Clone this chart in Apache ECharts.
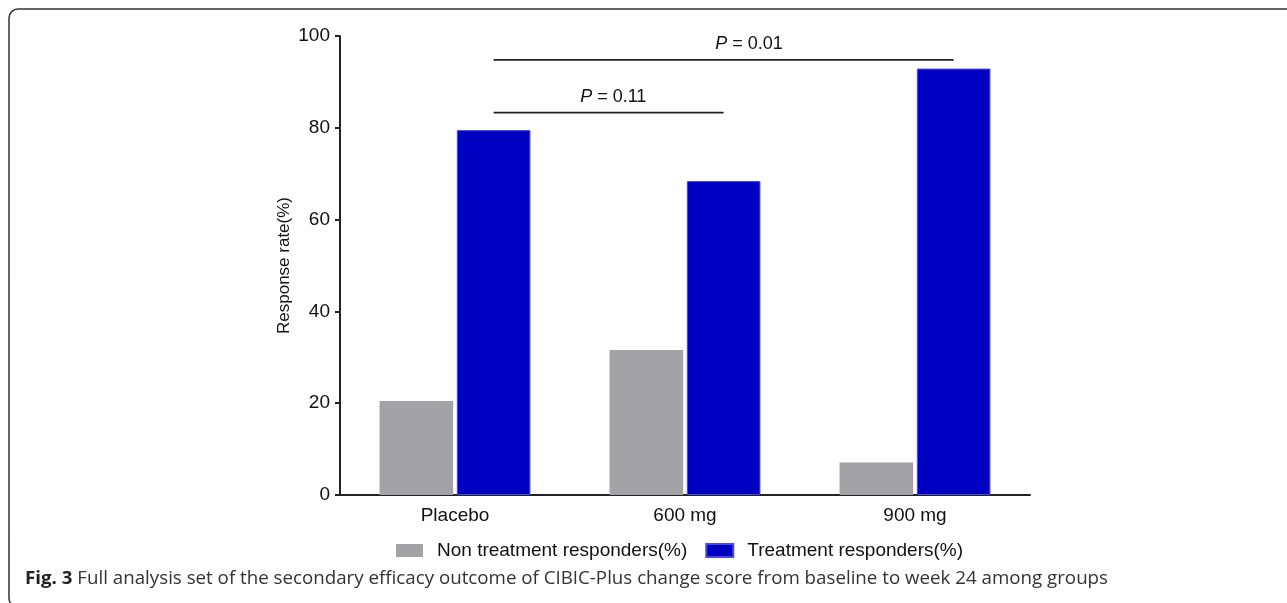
<!DOCTYPE html>
<html>
<head>
<meta charset="utf-8">
<script src="https://cdn.jsdelivr.net/npm/echarts@6/dist/echarts.min.js"></script>
<style>html,body{margin:0;padding:0;background:#fff;}#c{width:1287px;height:603px;}</style>
</head>
<body>
<div id="c"></div>
<script>
// ---- data ----
const categories = ['Placebo', '600 mg', '900 mg'];
const nonResponders = [20.5, 31.6, 7.1];
const responders = [79.5, 68.4, 92.9];
const seriesNames = ['Non treatment responders(%)', 'Treatment responders(%)'];
const yTicks = { min: 0, max: 100, interval: 20 };
// comparison brackets: [fromCategoryIndex, toCategoryIndex, bracketHeight]
const comparisons = [[0, 1, 83.3], [0, 2, 94.8]];
const pLabels = ['0.11', '0.01'];
const captionBold = 'Fig. 3';
const captionText = ' Full analysis set of the secondary efficacy outcome of CIBIC-Plus change score from baseline to week 24 among groups';

// ---- style ----
const FONT = 'Liberation Sans, Arial, sans-serif';
const BAR_FRAC = 0.32, GAP_FRAC = 0.05;
const labelAnchor = [0.52, 0.555];

const chart = echarts.init(document.getElementById('c'), null, { renderer: 'canvas' });

// caption scaling
const cv = document.createElement('canvas').getContext('2d');
const capFont = '"Open Sans", sans-serif';
cv.font = 'bold 18px ' + capFont;
const wb = cv.measureText(captionBold).width;
cv.font = '18px ' + capFont;
const wr = cv.measureText(captionText).width;
const capScale = (1108 - 25) / (wb + wr);

const option = {
  backgroundColor: '#fff',
  animation: false,
  grid: { left: 340, right: 257, top: 36, bottom: 108, containLabel: false },
  legend: {
    data: seriesNames,
    left: 391, top: 536,
    itemWidth: 27, itemHeight: 13, itemGap: 18,
    icon: 'rect',
    textStyle: { fontFamily: FONT, fontSize: 19, color: '#111', padding: [0, 0, 0, 9] }
  },
  xAxis: {
    type: 'category',
    data: categories,
    boundaryGap: true,
    axisLine: { lineStyle: { color: '#222', width: 2 } },
    axisTick: { alignWithLabel: true, length: 5, lineStyle: { color: '#222', width: 2 } },
    axisLabel: { fontFamily: FONT, fontSize: 19, color: '#111', margin: 11 },
    splitLine: { show: false }
  },
  yAxis: {
    type: 'value',
    min: yTicks.min, max: yTicks.max, interval: yTicks.interval,
    name: 'Response rate(%)',
    nameLocation: 'middle',
    nameGap: 47,
    nameMoveOverlap: false,
    nameTextStyle: { fontFamily: FONT, fontSize: 17, color: '#111' },
    axisLine: { show: true, lineStyle: { color: '#222', width: 2 } },
    axisTick: { show: true, length: 5, lineStyle: { color: '#222', width: 2 } },
    axisLabel: { fontFamily: FONT, fontSize: 19, color: '#111', margin: 10 },
    splitLine: { show: false }
  },
  series: [
    {
      name: seriesNames[0], type: 'bar', data: nonResponders,
      barWidth: (BAR_FRAC * 100) + '%', barGap: (GAP_FRAC * 100) + '%',
      itemStyle: { color: '#a3a2a7' }
    },
    {
      name: seriesNames[1], type: 'bar', data: responders,
      barWidth: (BAR_FRAC * 100) + '%', barGap: (GAP_FRAC * 100) + '%',
      itemStyle: { color: '#0000c2', borderColor: '#4a4ae0', borderWidth: 1 }
    },
    {
      type: 'custom',
      data: comparisons,
      encode: { x: [0, 1], y: 2 },
      clip: false,
      z: 5,
      renderItem: function (params, api) {
        const i = params.dataIndex;
        const a = api.coord([api.value(0), api.value(2)]);
        const b = api.coord([api.value(1), api.value(2)]);
        const band = api.size([1, 0])[0];
        const off = band * BAR_FRAC * (1 + GAP_FRAC) / 2;
        const x1 = a[0] + off, x2 = b[0] + off;
        return {
          type: 'group',
          children: [
            { type: 'line', shape: { x1: x1, y1: a[1], x2: x2, y2: b[1] }, style: { stroke: '#222', lineWidth: 1.8 } },
            {
              type: 'text',
              x: x1 + (x2 - x1) * labelAnchor[i], y: a[1] - 16,
              style: {
                text: '{i|P} = ' + pLabels[i],
                align: 'center', verticalAlign: 'middle',
                fontFamily: FONT, fontSize: 18, fill: '#111',
                rich: { i: { fontStyle: 'italic', fontFamily: FONT, fontSize: 18, fill: '#111' } }
              }
            }
          ]
        };
      }
    }
  ],
  graphic: [
    {
      type: 'rect', silent: true,
      shape: { x: 9, y: 9, width: 1300, height: 598, r: 9 },
      style: { fill: 'none', stroke: '#333', lineWidth: 1.5 }
    },
    {
      type: 'text', x: 25, y: 579, scaleX: capScale,
      style: {
        text: '{b|' + captionBold + '}' + captionText,
        fontFamily: capFont, fontSize: 18, fill: '#333',
        align: 'left', verticalAlign: 'middle',
        rich: { b: { fontWeight: 'bold', fontFamily: capFont, fontSize: 18, fill: '#222' } }
      }
    }
  ]
};
chart.setOption(option);
</script>
</body>
</html>
